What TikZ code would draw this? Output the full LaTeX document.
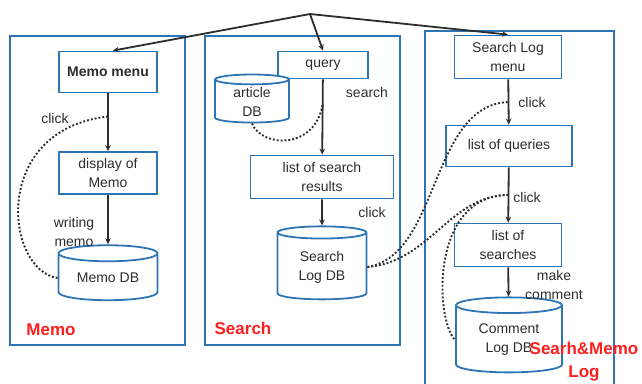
\documentclass[tikz,border=0pt]{standalone}
\usepackage{fontspec}
\setmainfont{Liberation Sans}
\usepackage{tikz}
\usetikzlibrary{positioning,calc,arrows.meta,shapes.geometric}
\definecolor{frameblue}{RGB}{46,117,182}
\definecolor{inkgray}{RGB}{45,45,45}
\definecolor{labred}{RGB}{255,30,30}

\begin{document}
\begin{tikzpicture}[x=1pt, y=-1pt,
  font=\fontsize{14}{19}\selectfont, text=inkgray,
  box/.style={draw=frameblue, line width=1.8pt, fill=white, align=center,
              inner sep=1pt, minimum width=#1},
  box/.default=98pt,
  db/.style={cylinder, shape border rotate=90, aspect=0.25, draw=frameblue,
             line width=1.8pt, fill=white, align=center, inner sep=1pt},
  frame/.style={draw=frameblue, line width=1.4pt},
  arr/.style={-{Stealth[length=6pt,width=5.5pt]}, line width=1.8pt, draw=inkgray},
  link/.style={dotted, line width=1.9pt, draw=inkgray},
  lbl/.style={inner sep=0pt, align=center},
  area/.style={text=labred, font=\fontsize{17}{23}\selectfont\bfseries, inner sep=0pt, align=center}]
\useasboundingbox (0,0) rectangle (642,383);
\draw[frame] (10,36) rectangle (185,345);
\draw[frame] (205,36) rectangle (400,345);
\draw[frame] (425,395) -- (425,31) -- (614,31) -- (614,395);
\node[box, minimum height=41pt, font=\fontsize{14}{19}\selectfont\bfseries] (mmenu) at (108,72) {Memo menu};
\node[box, minimum height=42pt] (mdisp) at (108,173) {display of\\Memo};
\node[db, minimum width=99pt, minimum height=55pt] (mdb) at (108,278) {Memo DB};
\node[box=90pt, minimum height=27pt] (query) at (323,65) {query};
\node[db, minimum width=74pt, minimum height=48pt] (artdb) at (252,102) {article\\DB};
\node[box=143pt, minimum height=43pt] (results) at (322,177) {list of search\\results};
\node[db, minimum width=89pt, minimum height=73pt] (sldb) at (322,267) {Search\\Log DB};
\node[box=107pt, minimum height=43pt] (slmenu) at (508,57) {Search Log\\menu};
\node[box=126pt, minimum height=41pt] (queries) at (509,146) {list of queries};
\node[box=107pt, minimum height=43pt] (searches) at (508,245) {list of\\searches};
\node[db, minimum width=106pt, minimum height=75pt] (cldb) at (509,340) {Comment\\Log DB};
\node[area] (memo) at (51,330) {Memo};
\node[area] (search) at (243,328) {Search};
\node[area] (logs) at (584,362) {Searh\&Memo\\Log};
\coordinate (hub) at (310,14);
\draw[arr] (hub) -- ([xshift=5pt]mmenu.north);
\draw[arr] (hub) -- (query.north);
\draw[arr] (hub) -- (slmenu.north);
\draw[arr] (mmenu) -- (mdisp);
\draw[arr] (mdisp) -- (mdb);
\draw[arr] (query) -- (results);
\draw[arr] (results) -- (sldb);
\draw[arr] (slmenu) -- (queries);
\draw[arr] (queries) -- (searches);
\draw[arr] (searches) -- (cldb);
\coordinate (mclick) at ($(mmenu.south)!0.4!(mdisp.north)$);
\coordinate (sclick) at ($(query.south)!0.33!(results.north)$);
\coordinate (qclick) at ($(slmenu.south)!0.5!(queries.north)$);
\coordinate (rclick) at ($(queries.south)!0.5!(searches.north)$);
\draw[link] (mdb.west) .. controls (5,270) and (-10,130) .. (mclick);
\draw[link] (artdb.south) .. controls (262,148) and (315,150) .. (sclick);
\draw[link] (sldb.east) .. controls (440,255) and (430,105) .. (qclick);
\draw[link] (sldb.east) .. controls (430,262) and (450,195) .. (rclick);
\draw[link] (rclick) .. controls (430,195) and (435,320) .. (cldb.west);
\node[lbl] (l1) at (55,118) {click};
\node[lbl] (l2) at (74,232) {writing\\memo};
\node[lbl] (l3) at (367,92) {search};
\node[lbl] (l4) at (372,212) {click};
\node[lbl] (l5) at (532,102) {click};
\node[lbl] (l6) at (527,197) {click};
\node[lbl] (l7) at (554,285) {make\\comment};
\end{tikzpicture}
\end{document}
